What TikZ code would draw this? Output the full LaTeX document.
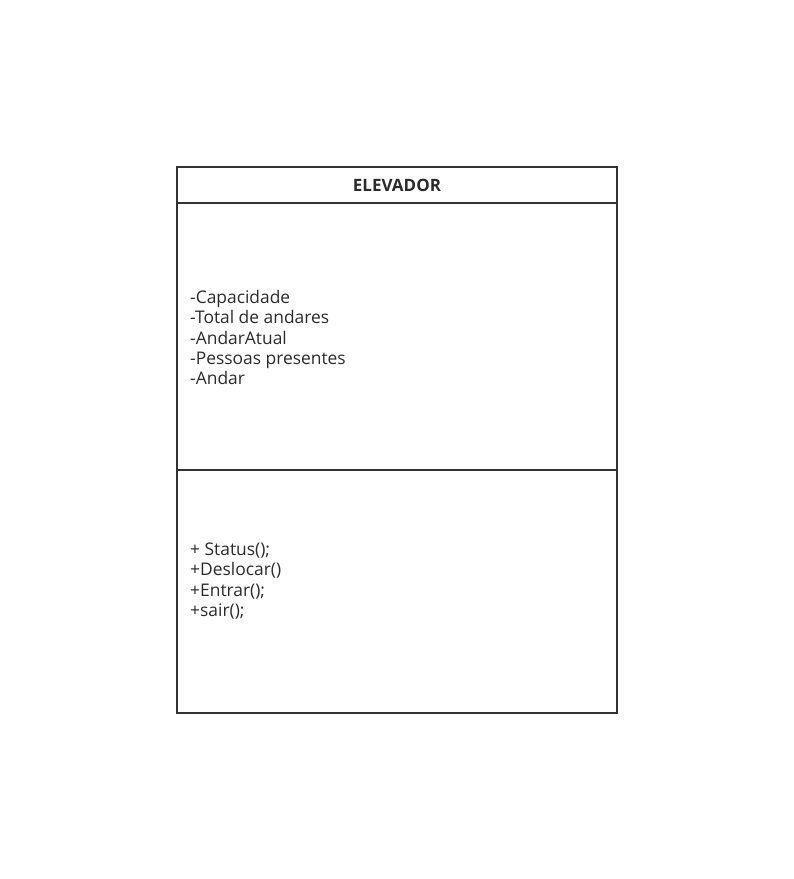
\documentclass[tikz,border=0pt]{standalone}
\usepackage{fontspec}
\setmainfont{Open Sans}
\usetikzlibrary{positioning}
\usetikzlibrary{math}
\definecolor{umlline}{HTML}{333333}
\definecolor{umltext}{HTML}{2B2B2B}

\begin{document}
\begin{tikzpicture}[x=1pt,y=-1pt,
    compartment/.style={draw=umlline,line width=1.5pt,minimum width=440pt,inner sep=0pt,outer sep=0pt},
    members/.style={anchor=west,align=left,inner sep=0pt,text=umltext,font=\fontsize{17.4}{20.3}\selectfont}
]

\useasboundingbox (0,0) rectangle (794,879);

% Sizes of the class box
\tikzmath{
    \boxleft = 177;
    \boxright = 617;
    \boxtop = 167;
    \boxhead = 203;
    \boxsplit = 470;
    \boxbottom = 713;
}

% Draws the three compartments
\node[compartment,minimum height={(\boxhead-\boxtop)*1pt},
    font=\bfseries\fontsize{17}{18}\selectfont,text=umltext]
    (title) at ({(\boxleft+\boxright)/2},{(\boxtop+\boxhead)/2}) {ELEVADOR};
\node[compartment,minimum height={(\boxsplit-\boxhead)*1pt},below=0pt of title] (attributes) {};
\node[compartment,minimum height={(\boxbottom-\boxsplit)*1pt},below=0pt of attributes] (methods) {};

% Draws the members
\node[members] (attributelist) at (190,337.5) {-Capacidade\\-Total de andares\\-AndarAtual\\-Pessoas presentes\\-Andar};
\node[members] (methodlist) at (190,581) {+ Status();\\+Deslocar()\\+Entrar();\\+sair();};

\end{tikzpicture}
\end{document}
